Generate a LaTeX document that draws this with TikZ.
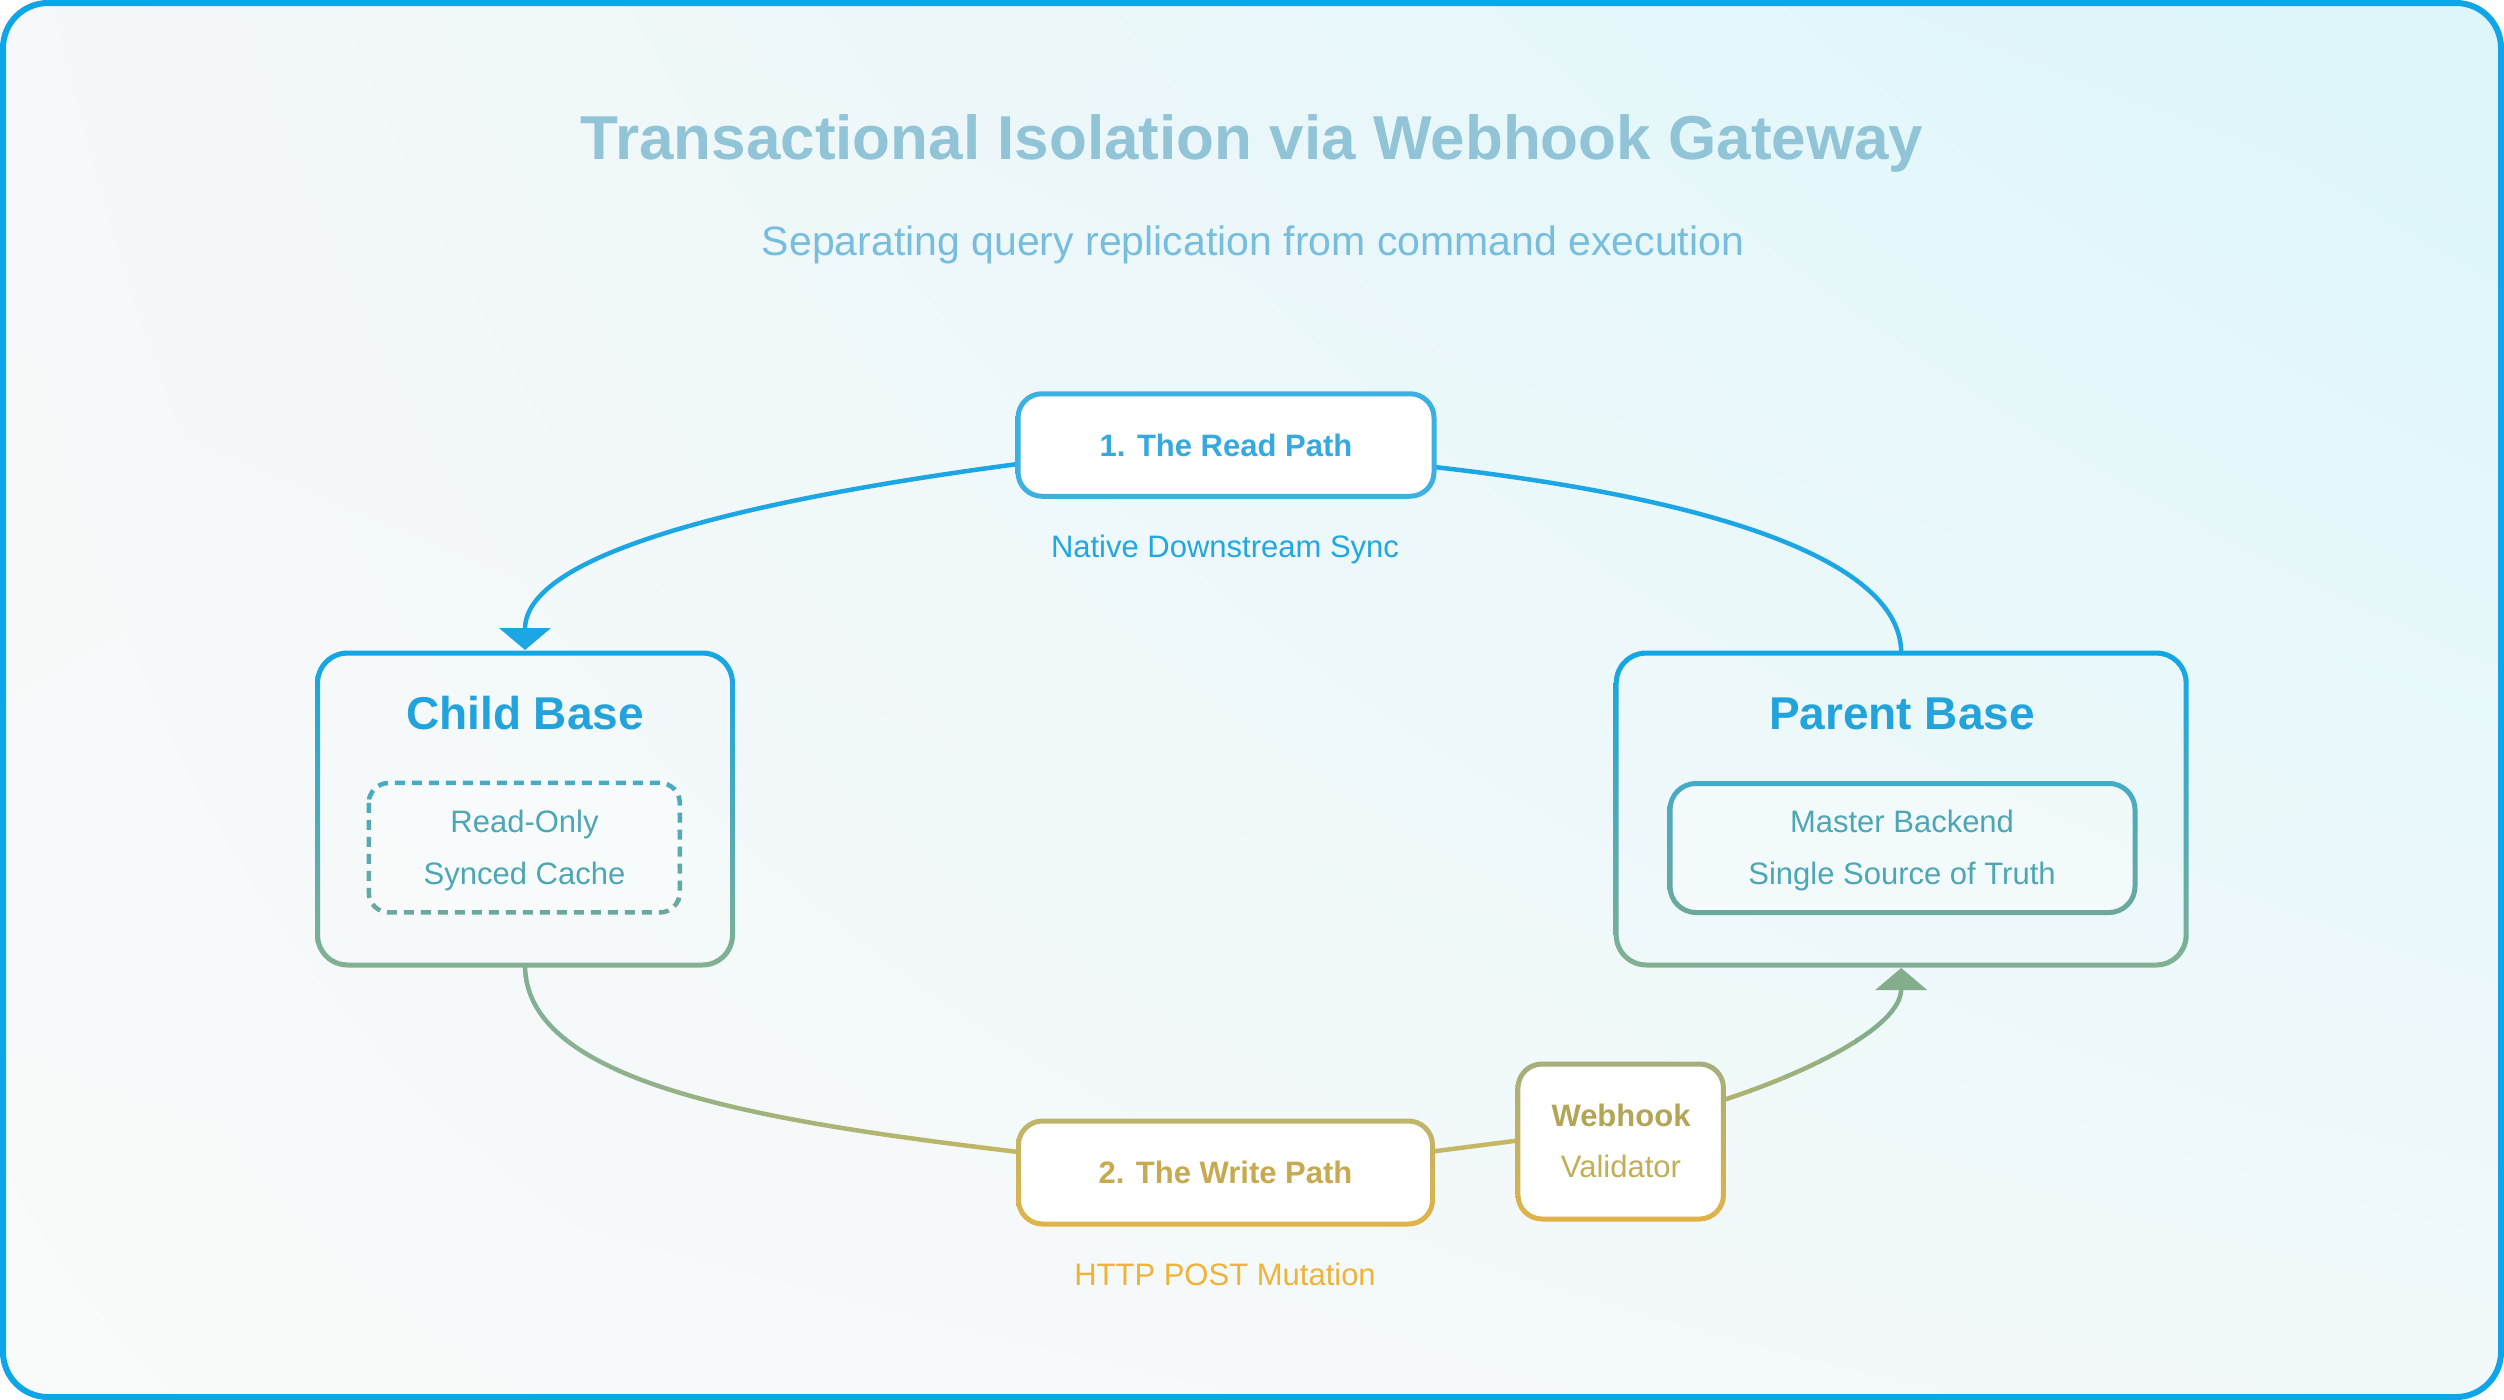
\documentclass[tikz,border=0pt]{standalone}
\usepackage{fontspec}
\setmainfont{Liberation Sans}
\usetikzlibrary{arrows.meta,calc,shadings}
\definecolor{border}{HTML}{0EA5E9}
\definecolor{bgUL}{HTML}{F6F8F9}
\definecolor{bgUR}{HTML}{DCF6FA}
\definecolor{bgLL}{HTML}{F9FAFA}
\definecolor{bgLR}{HTML}{F2F9FB}
\definecolor{titlec}{HTML}{90C4D6}
\definecolor{subc}{HTML}{78BEDC}
\definecolor{readc}{HTML}{1CA6E3}
\definecolor{readbox}{HTML}{3DB0E2}
\definecolor{readt}{HTML}{37A9DE}
\definecolor{natc}{HTML}{22A7E0}
\definecolor{basetop}{HTML}{12A6E6}
\definecolor{basebot}{HTML}{83B092}
\definecolor{basetxt}{HTML}{23A3DC}
\definecolor{intop}{HTML}{45ABC7}
\definecolor{inbot}{HTML}{6DA99B}
\definecolor{intxt}{HTML}{4DA6B4}
\definecolor{wtop}{HTML}{BDB56A}
\definecolor{wbot}{HTML}{E1B347}
\definecolor{htop}{HTML}{A4AF7C}
\definecolor{wtxt}{HTML}{C7A94F}
\definecolor{httpc}{HTML}{EDB33B}
\definecolor{hooktxt}{HTML}{B3A556}
\definecolor{valtxt}{HTML}{C2AE55}
\definecolor{wgreen}{HTML}{7FB098}
\definecolor{wolive}{HTML}{C7B660}
\definecolor{wmid}{HTML}{C6B765}
\definecolor{pgreen}{HTML}{7FAE8E}
\definecolor{polive}{HTML}{B3B26E}
% ring: #1 node, #2 half line width, #3 outer radius, #4 inner radius, #5 top colour, #6 bottom colour
\newcommand\ringbox[6]{%
  \shade[top color=#5, bottom color=#6, even odd rule]
    [rounded corners=#3] ([shift={(-#2,-#2)}]#1.north west) rectangle ([shift={(#2,#2)}]#1.south east)
    [rounded corners=#4] ([shift={(#2,#2)}]#1.north west) rectangle ([shift={(-#2,-#2)}]#1.south east);
}
\begin{document}
\begin{tikzpicture}[x=1pt,y=-1pt,
  lbl/.style={inner sep=0pt, anchor=base},
  box/.style={rectangle, inner sep=0pt, outer sep=0pt},
  conn/.style={line width=4.5pt},
  tipstyle/.style={-{Triangle[length=22pt,width=51pt]}},
  f31/.style={font=\fontsize{31}{37}\selectfont},
  f31b/.style={font=\fontsize{31}{37}\selectfont\bfseries},
  f46b/.style={font=\fontsize{46}{55}\selectfont\bfseries}]

\useasboundingbox (0,0) rectangle (2504,1400);
\fill[white] (0,0) rectangle (2504,1400);
\shade[upper left=bgUL, upper right=bgUR, lower left=bgLL, lower right=bgLR, rounded corners=45] (3,3) rectangle (2501,1397);
\draw[line width=6pt, draw=border, rounded corners=45] (3,3) rectangle (2501,1397);

% titles
\node[lbl, text=titlec, font=\fontsize{62}{74}\selectfont\bfseries] (title) at (1252,159) {Transactional Isolation via Webhook Gateway};
\node[lbl, text=subc, font=\fontsize{41}{49}\selectfont] (subtitle) at (1253,255) {Separating query replication from command execution};

% box nodes
\node[box, minimum width=416, minimum height=102.5] (read) at (1226,445) {};
\node[box, minimum width=415, minimum height=312] (child) at (525,809) {};
\node[box, minimum width=311, minimum height=129.5] (childin) at (524.3,847.7) {};
\node[box, minimum width=570, minimum height=312] (parent) at (1901.2,809) {};
\node[box, minimum width=465, minimum height=129] (parentin) at (1902.5,848) {};
\node[box, minimum width=414, minimum height=103] (write) at (1225.5,1172.5) {};
\node[box, minimum width=205.5, minimum height=155] (hook) at (1620.7,1141.5) {};

% read path connectors
\draw[conn, draw=readc] ($(read.east)+(0,22)$) .. controls +(250,28) and +(0,-100) .. (parent.north);
\draw[conn, draw=readc, tipstyle] ($(read.west)+(0,19)$) .. controls +(-250,33) and +(0,-100) .. ([yshift=3pt]child.north);

% write path connectors
\foreach \i in {0,...,9}{
  \pgfmathsetmacro\xa{515+51*\i}
  \pgfmathsetmacro\xb{\xa+52}
  \pgfmathtruncatemacro\p{95-10*\i}
  \begin{scope}
    \clip (\xa,940) rectangle (\xb,1200);
    \draw[conn, draw=wgreen!\p!wolive] (child.south) .. controls +(0,120) and +(-250,-30) .. ($(write.west)+(0,-20.5)$);
  \end{scope}
}
\draw[conn, draw=wmid] ($(write.east)+(0,-21)$) -- ($(hook.west)+(0,-1)$);
\foreach \xa/\xb/\p in {1715/1752/5, 1750/1787/25, 1785/1822/45, 1820/1857/65, 1855/1940/90}{
  \begin{scope}
    \clip (\xa,940) rectangle (\xb,1120);
    \draw[conn, draw=pgreen!\p!polive, tipstyle] ($(hook.east)+(0,-41.5)$) .. controls +(80,-26) and +(0,60) .. ([yshift=-3pt]parent.south);
  \end{scope}
}

% boxes
\fill[white, rounded corners=24] (read.north west) rectangle (read.south east);
\ringbox{read}{2.5}{26.5}{21.5}{readbox}{readbox}

\ringbox{child}{2.5}{32.5}{27.5}{basetop}{basebot}
\fill[white, fill opacity=0.35, rounded corners=20] (childin.north west) rectangle (childin.south east);
\foreach \i in {0,...,7}{
  \pgfmathsetmacro\ya{778+17.5*\i}
  \pgfmathsetmacro\yb{\ya+18}
  \pgfmathtruncatemacro\p{94-12.5*\i}
  \begin{scope}
    \clip (340,\ya) rectangle (710,\yb);
    \draw[line width=4.5pt, draw=intop!\p!inbot, dash pattern=on 10pt off 7pt, rounded corners=20] (childin.north west) rectangle (childin.south east);
  \end{scope}
}

\ringbox{parent}{2.5}{32.5}{27.5}{basetop}{basebot}
\fill[white, fill opacity=0.35, rounded corners=26] (parentin.north west) rectangle (parentin.south east);
\ringbox{parentin}{2.5}{28.5}{23.5}{intop}{inbot}

\fill[white, rounded corners=24] (write.north west) rectangle (write.south east);
\ringbox{write}{2.5}{26.5}{21.5}{wtop}{wbot}
\fill[white, rounded corners=24] (hook.north west) rectangle (hook.south east);
\ringbox{hook}{2.5}{26.5}{21.5}{htop}{wbot}

% labels
\node[lbl, f31b, text=readt] (readlbl) at (1226,456) {1. The Read Path};
\node[lbl, f31, text=natc] (natlbl) at (1225,557) {Native Downstream Sync};
\node[lbl, f46b, text=basetxt] (childlbl) at (525,729) {Child Base};
\node[lbl, f31, text=intxt] (ro) at (524.5,832) {Read-Only};
\node[lbl, f31, text=intxt] (sc) at (524.5,884) {Synced Cache};
\node[lbl, f46b, text=basetxt] (parentlbl) at (1902,729) {Parent Base};
\node[lbl, f31, text=intxt] (mb) at (1902,832) {Master Backend};
\node[lbl, f31, text=intxt] (sst) at (1902,884) {Single Source of Truth};
\node[lbl, f31b, text=wtxt] (writelbl) at (1225.5,1183) {2. The Write Path};
\node[lbl, f31, text=httpc] (httplbl) at (1225,1285) {HTTP POST Mutation};
\node[lbl, f31b, text=hooktxt] (hooklbl) at (1621,1126) {Webhook};
\node[lbl, f31, text=valtxt] (vallbl) at (1621,1177) {Validator};
\end{tikzpicture}
\end{document}
